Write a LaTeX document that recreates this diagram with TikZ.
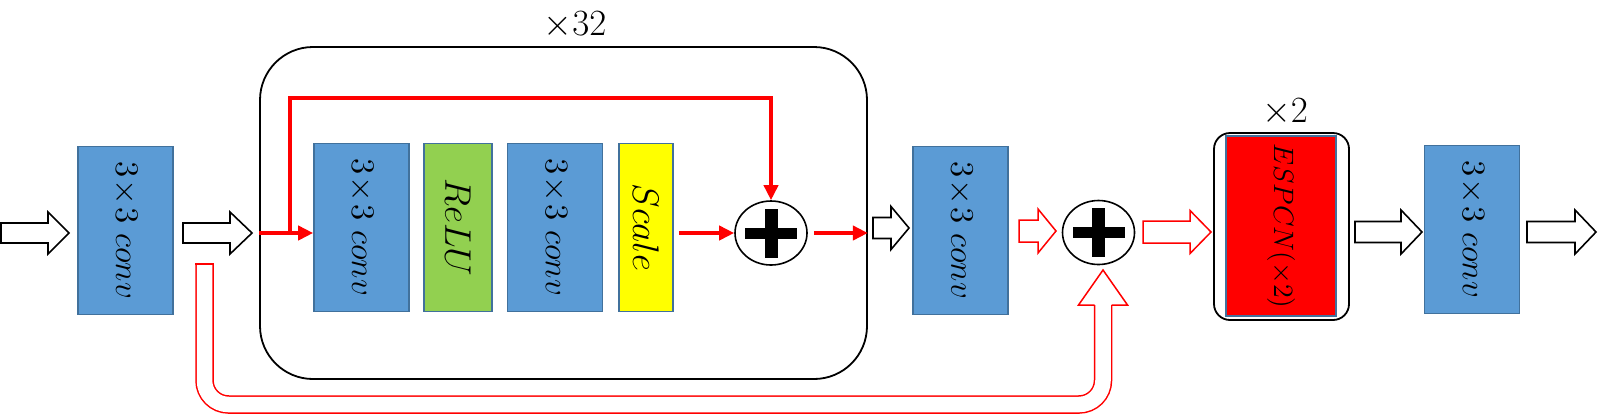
\documentclass[tikz,border=0pt]{standalone}
\usepackage{fix-cm}
\usepackage{graphicx}
\usetikzlibrary{arrows.meta,shapes.geometric,calc}
\definecolor{convblue}{HTML}{5B9BD5}
\definecolor{convedge}{HTML}{41719C}
\definecolor{relugreen}{HTML}{92D050}
\definecolor{scaleyellow}{HTML}{FFFF00}
\definecolor{purered}{HTML}{FF0000}
\newcommand\rottxt[2]{\rotatebox{-90}{\fontsize{#1}{#1}\selectfont$#2$}}
\newcommand\convlabel{3\mkern1mu{\times}\mkern1mu3\ conv}
\newcommand\blockarr[7]{\draw[#1] (#2,#4-#6) -- (#3-#5,#4-#6) -- (#3-#5,#4-#7) -- (#3,#4) -- (#3-#5,#4+#7) -- (#3-#5,#4+#6) -- (#2,#4+#6) -- cycle;}
\tikzset{
  layerbox/.style={draw=convedge, line width=0.8pt, inner sep=0pt, minimum height=84pt},
  convbox/.style={layerbox, fill=convblue, minimum width=47.5pt},
  relubox/.style={layerbox, fill=relugreen, minimum width=34pt},
  scalestyle/.style={layerbox, fill=scaleyellow, minimum width=27pt},
  espcnbox/.style={draw=convedge, line width=0.8pt, fill=purered, inner sep=0pt, minimum width=55pt, minimum height=90pt},
  blockrr/.style={draw=black, line width=0.9pt, rounded corners=26.5pt, inner sep=0pt},
  smallrr/.style={draw=black, line width=0.9pt, rounded corners=8pt, inner sep=0pt, minimum width=67.5pt, minimum height=93.5pt},
  addop/.style={ellipse, draw=black, line width=0.8pt, fill=white, minimum width=36pt, minimum height=32pt, inner sep=0pt},
  skipline/.style={draw=purered, line width=2.25pt, -{Triangle[length=7.5pt,width=7pt]}},
  harrowk/.style={draw=black, line width=0.8pt, fill=white, line join=miter},
  harrowr/.style={draw=purered, line width=0.75pt, fill=white, line join=miter},
  reptxt/.style={inner sep=0pt, font=\fontsize{18.5}{21}\selectfont},
}
\begin{document}
\begin{tikzpicture}[x=0.5pt,y=-0.5pt]
\useasboundingbox (0,0) rectangle (1598,414);

% residual block frame
\node[blockrr, minimum width=303.5pt, minimum height=166pt] (blk) at (563.5,213) {};
\node[reptxt] (rep32) at (575,25) {$\times32$};

% layers
\node[convbox] (conv1) at (125.5,230.5) {\rottxt{16.5}{\convlabel}};
\node[convbox] (conv2) at (361.5,227.5) {\rottxt{16.5}{\convlabel}};
\node[relubox] (relu) at (458,227.5) {\rottxt{18.5}{ReLU}};
\node[convbox] (conv3) at (555,227.5) {\rottxt{16.5}{\convlabel}};
\node[scalestyle] (scale) at (646,227.5) {\rottxt{18.5}{Scale}};
\node[convbox] (conv5) at (960.5,230.5) {\rottxt{16.5}{\convlabel}};
\node[smallrr] (espframe) at (1281.5,226.5) {};
\node[espcnbox] (espcn) at (1281,226) {\rottxt{14}{ESPCN(\times2)}};
\node[reptxt] (rep2) at (1285,112) {$\times2$};
\node[convbox] (conv6) at (1472,229.5) {\rottxt{16.5}{\convlabel}};

% adders
\node[addop] (c1) at (771,233) {};
\fill[black] (c1.center) +(-26,-5.5) rectangle +(26,5.5);
\fill[black] (c1.center) +(-6.5,-24.5) rectangle +(6.5,24.5);
\node[addop] (c2) at (1098.5,232.5) {};
\fill[black] (c2.center) +(-26,-5.5) rectangle +(26,5.5);
\fill[black] (c2.center) +(-6.5,-24.5) rectangle +(6.5,24.5);

% red connectors inside the block
\coordinate (j) at (290,233);
\draw[skipline] (blk.west |- j) -- (conv2.west |- j);
\draw[skipline] (j) -- ++(0,-135) -| (c1.north);
\path (scale.east |- c1.west) ++(5,0) coordinate (s1);
\draw[skipline] (s1) -- (c1.west);
\path (c1.east) ++(6,0) coordinate (s2);
\draw[skipline] (s2) -- (blk.east |- c1.east);

% hollow block arrows
\blockarr{harrowk}{1}{69}{233}{21}{10}{21}
\blockarr{harrowk}{183}{252}{233}{22}{10}{21}
\blockarr{harrowk}{873}{909}{228}{18}{10.5}{21.5}
\blockarr{harrowr}{1019}{1056}{231}{18}{11}{22}
\blockarr{harrowr}{1143}{1211}{232}{21}{11}{21.5}
\blockarr{harrowk}{1355}{1422}{232}{21}{10.5}{22}
\blockarr{harrowk}{1527}{1596}{232}{21}{10.5}{22}

% long red hollow skip arrow
\coordinate (ustart) at (204.5,264);
\coordinate (ubl) at (204.5,404.5);
\coordinate (ubr) at (1103,404.5);
\coordinate (uhb) at (1103,305);
\coordinate (utip) at (1103,270);
\draw[purered, line width=0.75pt, double=white, double distance=7.75pt, rounded corners=12pt]
  (ustart) -- (ubl) -- (ubr) -- (uhb);
\draw[purered, line width=0.75pt, line cap=rect] ([xshift=-4.25pt]ustart) -- ([xshift=4.25pt]ustart);
\draw[purered, line width=0.75pt, line join=miter]
  ([xshift=-4.25pt]uhb) -- ([xshift=-12.25pt]uhb) -- (utip) -- ([xshift=12.25pt]uhb) -- ([xshift=4.25pt]uhb);
\end{tikzpicture}
\end{document}
